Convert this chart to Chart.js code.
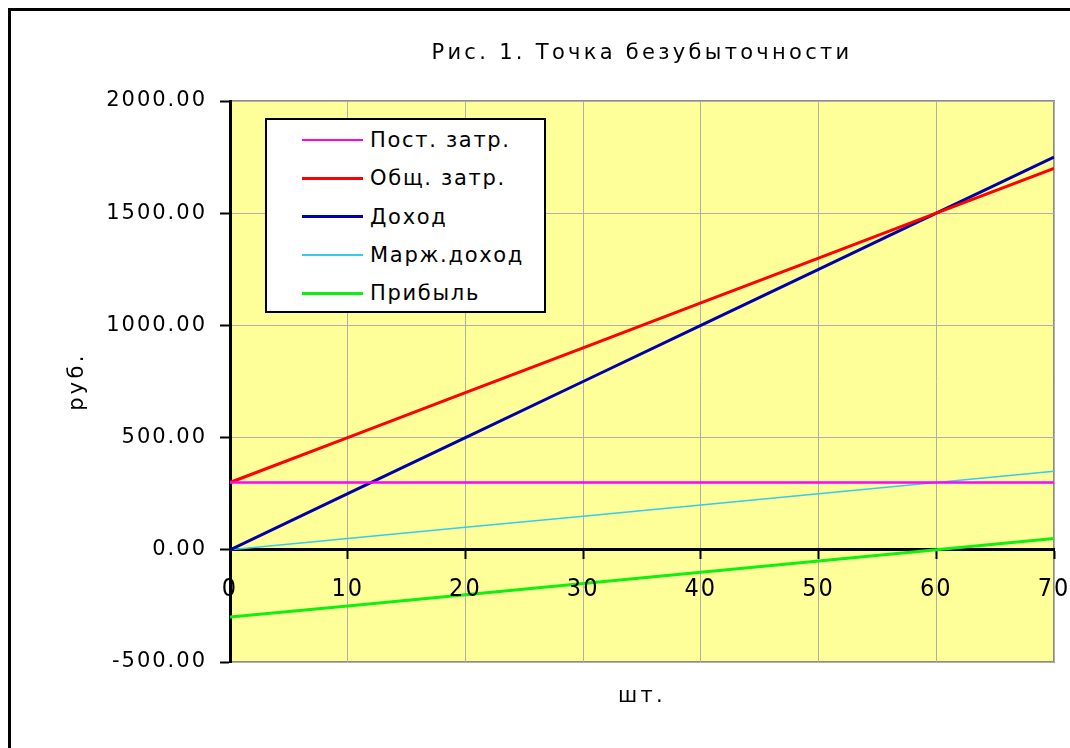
<!DOCTYPE html>
<html><head><meta charset="utf-8">
<script src="https://cdn.jsdelivr.net/npm/chart.js@4.4.0/dist/chart.umd.min.js"></script>
<style>
html,body{margin:0;padding:0;background:#fff;overflow:hidden;width:1070px;height:748px}
#frame{position:absolute;left:8px;top:8px;width:1100px;height:800px;border-left:3px solid #000;border-top:3px solid #000;box-sizing:border-box}
#wrap{position:absolute;left:0;top:0;width:1070px;height:748px}
#legend{position:absolute;left:265px;top:118px;width:281px;height:195px;box-sizing:border-box;border:2px solid #000;background:#fff;font-family:"DejaVu Sans",sans-serif;font-size:21px;letter-spacing:1.7px;color:#000;z-index:5}
.row{position:absolute;left:0;width:100%;height:38px}
.sample{position:absolute;left:35px;width:61px}
.txt{position:absolute;left:103px;top:0;line-height:38px;white-space:nowrap}
</style>
</head><body>
<div id="frame"></div>
<div id="wrap"><canvas id="c" width="1070" height="748"></canvas></div>
<div id="legend"></div>
<script>
const chartTitle = 'Рис. 1. Точка безубыточности';
const xTitle = 'шт.';
const yTitle = 'руб.';
const quantities   = [0, 10, 20, 30, 40, 50, 60, 70];
const fixedCosts   = [300, 300, 300, 300, 300, 300, 300, 300];
const totalCosts   = [300, 500, 700, 900, 1100, 1300, 1500, 1700];
const revenue      = [0, 250, 500, 750, 1000, 1250, 1500, 1750];
const marginIncome = [0, 50, 100, 150, 200, 250, 300, 350];
const profit       = [-300, -250, -200, -150, -100, -50, 0, 50];
const seriesLabels = ['Пост. затр.', 'Общ. затр.', 'Доход', 'Марж.доход', 'Прибыль'];
const xTickValues  = [0, 10, 20, 30, 40, 50, 60, 70];
const yTickValues  = [-500, 0, 500, 1000, 1500, 2000];

const seriesValues = [fixedCosts, totalCosts, revenue, marginIncome, profit];
const seriesColors = ['#ff00ff', '#ff0000', '#0000a8', '#33ccee', '#11ee11'];
const seriesWidths = [2.5, 3, 3, 1.5, 3];

const datasets = seriesLabels.map((lab, k) => ({
  label: lab,
  data: quantities.map((q, i) => ({x: q, y: seriesValues[k][i]})),
  borderColor: seriesColors[k],
  backgroundColor: seriesColors[k],
  borderWidth: seriesWidths[k],
  pointRadius: 0,
  tension: 0,
  fill: false,
  xAxisID: 'x',
  yAxisID: 'y'
}));

const gridGray = '#b0b0a8';

const plotBg = {
  id: 'plotBg',
  beforeUpdate(c) { c.ctx.letterSpacing = '3.3px'; },
  beforeDraw(c) {
    const {ctx, chartArea: a} = c;
    ctx.save();
    ctx.fillStyle = '#ffff99';
    ctx.fillRect(a.left, a.top, a.right - a.left, a.bottom - a.top);
    ctx.strokeStyle = '#8c8c80';
    ctx.lineWidth = 2;
    ctx.strokeRect(a.left, a.top, a.right - a.left, a.bottom - a.top);
    ctx.restore();
    ctx.letterSpacing = '3.3px';
  },
  afterDatasetsDraw(c) { c.ctx.letterSpacing = '2px'; }
};

new Chart(document.getElementById('c'), {
  type: 'line',
  data: {datasets},
  plugins: [plotBg],
  options: {
    responsive: false,
    animation: false,
    events: [],
    layout: {padding: {top: 41, right: 16, bottom: 0, left: 0}},
    plugins: {
      legend: {display: false},
      tooltip: {enabled: false},
      title: {
        display: true, text: chartTitle, color: '#000', fullSize: false,
        font: {family: 'DejaVu Sans', size: 21, weight: 'normal', lineHeight: 1.2},
        padding: {top: 0, bottom: 34.8}
      }
    },
    scales: {
      x: {
        type: 'linear', position: {y: 0}, min: 0, max: 70,
        afterBuildTicks: s => { s.ticks = xTickValues.map(v => ({value: v})); },
        afterFit: s => { s.paddingLeft = 0; s.paddingRight = 0; },
        ticks: {
          color: '#000', padding: 17, z: 1, autoSkip: false, maxRotation: 0,
          font: {family: '"Liberation Sans Narrow", "DejaVu Sans Condensed", sans-serif', size: 25}
        },
        grid: {color: gridGray, lineWidth: 1, tickColor: '#000', tickLength: 8, tickWidth: 2},
        border: {color: '#000', width: 3}
      },
      x2: {
        type: 'linear', axis: 'x', position: 'bottom', min: 0, max: 70,
        ticks: {display: false}, grid: {display: false}, border: {display: false},
        title: {display: true, text: xTitle, color: '#000',
          font: {family: 'DejaVu Sans', size: 21, lineHeight: 1.2}, padding: {top: 0, bottom: 39}},
        afterFit: s => { s.height = 86; s.paddingLeft = 0; s.paddingRight = 0; }
      },
      y: {
        type: 'linear', position: 'left', min: -500, max: 2000,
        afterBuildTicks: s => { s.ticks = yTickValues.map(v => ({value: v})); },
        ticks: {
          color: '#000', padding: 13, z: 1,
          font: {family: 'DejaVu Sans', size: 21},
          callback: v => Number(v).toFixed(2)
        },
        grid: {color: gridGray, lineWidth: 1, tickColor: '#000', tickLength: 10, tickWidth: 2},
        border: {color: '#000', width: 3},
        title: {display: true, text: yTitle, color: '#000',
          font: {family: 'DejaVu Sans', size: 21, lineHeight: 1.2}, padding: {top: 65.4, bottom: 0}},
        afterFit: s => { s.width = 230; }
      }
    }
  }
});

// HTML legend built from the series arrays
const leg = document.getElementById('legend');
seriesLabels.forEach((lab, k) => {
  const row = document.createElement('div');
  row.className = 'row';
  row.style.top = (1 + 38.3 * k) + 'px';
  const s = document.createElement('div');
  s.className = 'sample';
  s.style.height = seriesWidths[k] + 'px';
  s.style.top = (19 - seriesWidths[k] / 2) + 'px';
  s.style.background = seriesColors[k];
  const t = document.createElement('div');
  t.className = 'txt';
  t.textContent = lab;
  row.appendChild(s); row.appendChild(t);
  leg.appendChild(row);
});
</script>
</body></html>
